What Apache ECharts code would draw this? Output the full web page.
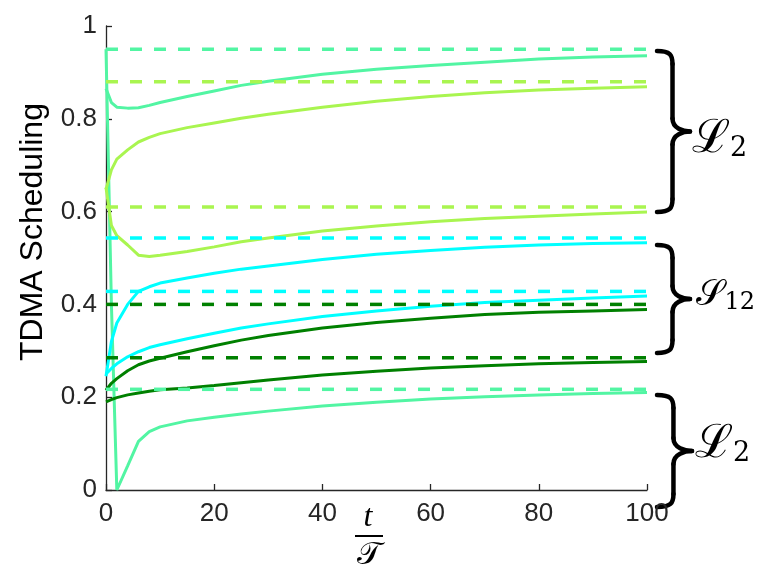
<!DOCTYPE html>
<html>
<head>
<meta charset="utf-8">
<script src="https://cdn.jsdelivr.net/npm/echarts@6/dist/echarts.min.js"></script>
<style>
  html, body { margin: 0; padding: 0; background: #fff; }
  #chart { width: 759px; height: 571px; }
</style>
</head>
<body>
<div id="chart"></div>
<script>
// time axis (t / T)
const tSteps = [0, 1, 2, 4, 6, 8, 10, 15, 20, 25, 30, 40, 50, 60, 70, 80, 90, 100];

// solid curves
const tealUpper  = [0.865, 0.835, 0.825, 0.823, 0.824, 0.829, 0.835, 0.848, 0.860, 0.872, 0.881, 0.896, 0.907, 0.915, 0.922, 0.929, 0.933, 0.936];
const tealLower  = [0.95, 0.40, 0.0, 0.052, 0.105, 0.126, 0.136, 0.149, 0.157, 0.164, 0.170, 0.181, 0.189, 0.196, 0.201, 0.205, 0.208, 0.210];
const limeUpper  = [0.648, 0.69, 0.713, 0.733, 0.750, 0.760, 0.768, 0.781, 0.791, 0.801, 0.810, 0.825, 0.838, 0.848, 0.856, 0.862, 0.866, 0.869];
const limeLower  = [0.652, 0.57, 0.548, 0.528, 0.506, 0.503, 0.506, 0.514, 0.524, 0.535, 0.543, 0.558, 0.569, 0.578, 0.585, 0.590, 0.595, 0.599];
const cyanUpper  = [0.245, 0.32, 0.36, 0.40, 0.428, 0.438, 0.446, 0.457, 0.467, 0.476, 0.483, 0.497, 0.508, 0.516, 0.523, 0.528, 0.531, 0.533];
const cyanLower  = [0.25, 0.262, 0.272, 0.287, 0.298, 0.307, 0.313, 0.326, 0.338, 0.349, 0.358, 0.374, 0.386, 0.396, 0.404, 0.409, 0.414, 0.418];
const greenUpper = [0.215, 0.23, 0.24, 0.257, 0.27, 0.278, 0.284, 0.298, 0.311, 0.323, 0.333, 0.349, 0.361, 0.370, 0.378, 0.383, 0.386, 0.389];
const greenLower = [0.19, 0.195, 0.199, 0.205, 0.209, 0.213, 0.216, 0.220, 0.225, 0.231, 0.237, 0.248, 0.256, 0.263, 0.268, 0.272, 0.275, 0.277];

// dashed limit levels
const limitLevels = [0.95, 0.88, 0.61, 0.543, 0.428, 0.40, 0.285, 0.217];
const limitColors = ['teal', 'lime', 'lime', 'cyan', 'cyan', 'green', 'green', 'teal'];

const yTicks = [0, 0.2, 0.4, 0.6, 0.8, 1];
const xTicks = [0, 20, 40, 60, 80, 100];

const COLORS = {
    teal: '#52f5a3',
    lime: '#a9f550',
    cyan: '#00ffff',
    green: '#008000',
    axis: '#262626'
};

const curves = [
    {c: 'teal', d: tealUpper}, {c: 'teal', d: tealLower},
    {c: 'lime', d: limeUpper}, {c: 'lime', d: limeLower},
    {c: 'cyan', d: cyanUpper}, {c: 'cyan', d: cyanLower},
    {c: 'green', d: greenUpper}, {c: 'green', d: greenLower}
];

const seriesList = [];
curves.forEach(cv => {
    seriesList.push({
        type: 'line', symbol: 'none', silent: true,
        data: tSteps.map((t, i) => [t, cv.d[i]]),
        lineStyle: {color: COLORS[cv.c], width: 3}
    });
});
limitLevels.forEach((v, i) => {
    seriesList.push({
        type: 'line', symbol: 'none', silent: true,
        data: [[xTicks[0], v], [xTicks[xTicks.length - 1], v]],
        lineStyle: {color: COLORS[limitColors[i]], width: 3.5, type: [12, 12]}
    });
});

// curly brace built from curves and lines: x0 = tip, y0..y1 span, w = width to the point
const braceStyle = {stroke: '#000', fill: null, lineWidth: 4.5, lineCap: 'round'};
function brace(x0, y0, y1, w) {
    const ym = (y0 + y1) / 2, a = w * 0.47, r = 13;
    const bz = (x1, y1_, cx1, cy1, cx2, cy2, x2, y2) => ({
        type: 'bezierCurve', style: braceStyle,
        shape: {x1: x1, y1: y1_, cpx1: cx1, cpy1: cy1, cpx2: cx2, cpy2: cy2, x2: x2, y2: y2}
    });
    const ln = (x1, y1_, x2, y2) => ({type: 'line', style: braceStyle, shape: {x1: x1, y1: y1_, x2: x2, y2: y2}});
    return [
        bz(x0, y0, x0 + a * 0.85, y0, x0 + a, y0 + r * 0.3, x0 + a, y0 + r),
        ln(x0 + a, y0 + r, x0 + a, ym - r),
        bz(x0 + a, ym - r, x0 + a, ym - 3, x0 + w * 0.8, ym, x0 + w, ym),
        bz(x0 + w, ym, x0 + w * 0.8, ym, x0 + a, ym + 3, x0 + a, ym + r),
        ln(x0 + a, ym + r, x0 + a, y1 - r),
        bz(x0 + a, y1 - r, x0 + a, y1 - r * 0.3, x0 + a * 0.85, y1, x0, y1)
    ];
}
const mathRich = {
    s: {fontFamily: 'DejaVu Serif', fontSize: 46, fill: '#000'},
    s2: {fontFamily: 'DejaVu Serif', fontSize: 36, fill: '#000'},
    sub: {fontFamily: 'DejaVu Serif', fontSize: 27, fill: '#000', padding: [18, 0, 0, 0]},
    sub2: {fontFamily: 'DejaVu Serif', fontSize: 24, fill: '#000', padding: [14, 0, 0, 0]}
};
const labelFont = 'Liberation Sans';

const myChart = echarts.init(document.getElementById('chart'));
myChart.setOption({
    backgroundColor: '#ffffff',
    animation: false,
    grid: {left: 106, right: 112, top: 26, bottom: 81, outerBoundsMode: 'none'},
    xAxis: {
        type: 'value', min: xTicks[0], max: xTicks[xTicks.length - 1], interval: 20,
        axisLine: {lineStyle: {color: COLORS.axis, width: 1.3}},
        axisTick: {inside: true, length: 6, lineStyle: {color: COLORS.axis, width: 1.3}},
        axisLabel: {color: COLORS.axis, fontSize: 26, fontFamily: labelFont, margin: 11},
        splitLine: {show: false}
    },
    yAxis: {
        type: 'value', min: yTicks[0], max: yTicks[yTicks.length - 1], interval: 0.2,
        axisLine: {show: true, lineStyle: {color: COLORS.axis, width: 1.3}},
        axisTick: {show: true, inside: true, length: 6, lineStyle: {color: COLORS.axis, width: 1.3}},
        axisLabel: {color: COLORS.axis, fontSize: 26, fontFamily: labelFont, margin: 9},
        splitLine: {show: false}
    },
    graphic: [
        {type: 'text', x: 33, y: 232, rotation: Math.PI / 2,
         style: {text: 'TDMA Scheduling', fontFamily: 'Liberation Sans', fontSize: 32, fill: '#000', align: 'center', verticalAlign: 'middle'}},
        {type: 'text', x: 368, y: 518,
         style: {text: 't', fontFamily: 'Liberation Serif', fontStyle: 'italic', fontSize: 32, fill: '#000', align: 'center', verticalAlign: 'middle'}},
        {type: 'line', shape: {x1: 355, y1: 536, x2: 383, y2: 536}, style: {stroke: '#000', lineWidth: 2}},
        {type: 'text', x: 369, y: 556,
         style: {text: '𝒯', fontFamily: 'DejaVu Serif', fontSize: 32, fill: '#000', align: 'center', verticalAlign: 'middle'}},
        ...brace(657, 51, 212, 33),
        ...brace(657, 245, 353, 33),
        ...brace(657, 395, 507, 35),
        {type: 'text', x: 692, y: 140,
         style: {text: '{s|ℒ}{sub|2}', rich: mathRich, verticalAlign: 'middle'}},
        {type: 'text', x: 755, y: 296,
         style: {text: '{s2|𝒮}{sub2|12}', rich: mathRich, align: 'right', verticalAlign: 'middle'}},
        {type: 'text', x: 695, y: 445,
         style: {text: '{s|ℒ}{sub|2}', rich: mathRich, verticalAlign: 'middle'}}
    ],
    series: seriesList
});
window.addEventListener('resize', () => myChart.resize());
</script>
</body>
</html>
